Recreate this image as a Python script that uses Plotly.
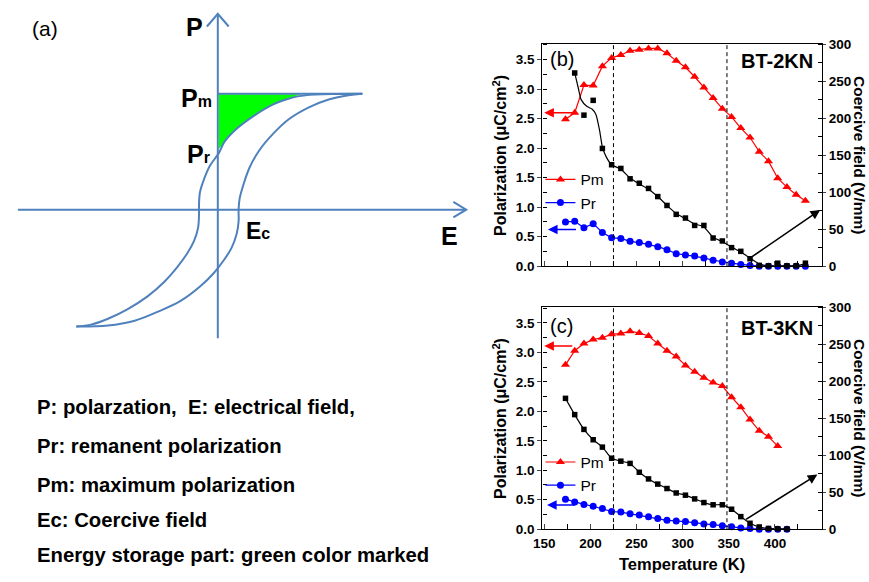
import plotly.graph_objects as go

# ---------------- data: panel (b) BT-2KN ----------------
T_b = [173, 183, 193, 203, 213, 223, 233, 243, 253, 263, 273, 283, 293, 303,
       313, 323, 333, 343, 353, 363, 373, 383, 393, 403, 413, 423, 433]
pm_b = [2.49, 2.60, 3.07, 3.06, 3.39, 3.53, 3.58, 3.65, 3.67, 3.69, 3.69, 3.61, 3.48, 3.37,
        3.21, 3.03, 2.85, 2.67, 2.53, 2.34, 2.18, 1.94, 1.78, 1.49, 1.34, 1.21, 1.11]
pr_b = [0.75, 0.76, 0.65, 0.72, 0.57, 0.48, 0.47, 0.42, 0.40, 0.37, 0.33, 0.28, 0.21, 0.19,
        0.17, 0.14, 0.10, 0.07, 0.05, 0.03, 0.01, 0.0, 0.0, 0.0, 0.0, 0.0, 0.0]
T_b_ec = [183, 193, 203, 213, 223, 233, 243, 253, 263, 273, 283, 293, 303,
          313, 323, 333, 343, 353, 363, 373, 383, 393, 403, 413, 423, 433]
ec_b = [261, 204, 224, 159, 137, 132, 118, 112, 105, 94, 82, 70, 65,
        55, 55, 38, 34, 25, 20, 10, 1, 0.5, 4, 0.5, 0.5, 4]
T_b_fit = [183, 187, 190, 196, 202, 206, 210, 213, 217, 223, 233, 243, 253, 263, 273, 283,
           293, 303, 313, 323, 333, 343, 353, 363, 373, 383, 393, 403, 413, 423, 433]
ec_b_fit = [261, 240, 225, 216, 212, 205, 183, 161, 148, 137, 131, 119, 111, 104, 94, 82,
            71, 64, 57, 53, 39, 33, 26, 19, 11, 3, 0.5, 0.5, 0.5, 0.5, 3]

# ---------------- data: panel (c) BT-3KN ----------------
T_c = [173, 183, 193, 203, 213, 223, 233, 243, 253, 263, 273, 283, 293, 303,
       313, 323, 333, 343, 353, 363, 373, 383, 393, 403]
pm_c = [2.79, 3.03, 3.15, 3.22, 3.25, 3.31, 3.32, 3.36, 3.33, 3.28, 3.15, 3.03, 2.93, 2.78,
        2.67, 2.57, 2.49, 2.43, 2.24, 2.07, 1.86, 1.67, 1.57, 1.41]
T_c_pr = [173, 183, 193, 203, 213, 223, 233, 243, 253, 263, 273, 283, 293, 303,
          313, 323, 333, 343, 353, 363, 373, 383, 393, 403, 413]
pr_c = [0.51, 0.46, 0.42, 0.39, 0.35, 0.30, 0.29, 0.26, 0.24, 0.21, 0.18, 0.15, 0.14, 0.13,
        0.11, 0.09, 0.08, 0.06, 0.04, 0.02, 0.01, 0.0, 0.0, 0.0, 0.0]
T_c_ec = [173, 183, 193, 203, 213, 223, 233, 243, 253, 263, 273, 283, 293, 303,
          313, 323, 333, 343, 353, 363, 373, 383, 393, 403, 413]
ec_c = [177, 155, 135, 121, 111, 96, 92, 89, 77, 68, 61, 55, 49, 46,
        41, 36, 33, 33, 27, 17, 8, 3, 1, 0.5, 0.3]

dashed_T = [225, 348]
x_ticks = [150, 200, 250, 300, 350, 400]

# arrows: (head_x, head_y, tail_x, tail_y)
arrow_b_pm = (150, 2.60, 182, 2.60)
arrow_b_pr = (154, 0.62, 186, 0.62)
arrow_b_ec = (449, 76, 372, 10)
arrow_c_pm = (150, 3.11, 182, 3.11)
arrow_c_pr = (153, 0.41, 185, 0.41)
arrow_c_ec = (446, 74, 367, 12)

# ---------------- schematic (a), in picture pixel units ----------------
loop_up_x = [357, 330, 310, 293, 280, 267, 247, 230, 218, 212, 203, 197, 193, 192, 192,
             191, 187, 180, 170, 157, 140, 120, 100, 83, 68]
loop_up_y = [89, 89.2, 89.8, 91.5, 95, 100, 112, 125, 138, 150, 163, 177, 190, 203, 213,
             227, 240, 253, 267, 282, 297, 310, 320, 326, 328]
loop_lo_x = [68, 100, 127, 150, 173, 193, 207, 217, 225, 230, 232, 232, 233, 237, 243,
             253, 267, 283, 303, 323, 340, 357]
loop_lo_y = [328, 327, 322, 313, 302, 287, 273, 260, 247, 233, 220, 208, 197, 182, 165,
             147, 130, 115, 103, 95, 91, 89]
green_x = [212, 295, 280, 267, 247, 230, 218, 212]
green_y = [89.5, 89.5, 95, 100, 112, 125, 138, 146]
p_axis_x = [211, 211]
p_axis_y = [340, 7]
e_axis_x = [9, 462]
e_axis_y = [208, 208]
pm_line_x = [211, 357]
pm_line_y = [89, 89]
p_head_x = [200, 211, 222]
p_head_y = [20, 7, 20]
e_head_x = [449, 462, 449]
e_head_y = [200, 208, 216]

notes = ["P: polarzation,  E: electrical field,",
         "Pr: remanent polarization",
         "Pm: maximum polarization",
         "Ec: Coercive field",
         "Energy storage part: green color marked"]
notes_y = [411, 451, 491, 527, 562]

W, H = 869, 582
FONT = "Arial, Liberation Sans, sans-serif"
BLUE_S = "#4f81bd"

fig = go.Figure()

def px_x(v):
    return v / W

def px_y(v):
    return 1 - v / H

# ---- schematic traces (axis x3/y5, 1 unit = 1 px)
sch = dict(xaxis="x3", yaxis="y5", showlegend=False, hoverinfo="skip")
fig.add_trace(go.Scatter(x=green_x, y=green_y, fill="toself", fillcolor="#00ff00",
                         mode="none", **sch))
for xs, ys in [(p_axis_x, p_axis_y), (e_axis_x, e_axis_y), (pm_line_x, pm_line_y),
               (p_head_x, p_head_y), (e_head_x, e_head_y)]:
    fig.add_trace(go.Scatter(x=xs, y=ys, mode="lines",
                             line=dict(color=BLUE_S, width=2), **sch))
for xs, ys in [(loop_up_x, loop_up_y), (loop_lo_x, loop_lo_y)]:
    fig.add_trace(go.Scatter(x=xs, y=ys, mode="lines",
                             line=dict(color=BLUE_S, width=2, shape="spline", smoothing=1.0),
                             **sch))

# ---- panel traces
def panel(xa, ya, ya2, T_pm, pm, T_pr, pr, T_ec, ec, legend, fitT=None, fitE=None):
    fig.add_trace(go.Scatter(x=T_pm, y=pm, name="Pm", mode="lines+markers",
                             xaxis=xa, yaxis=ya, legend=legend, cliponaxis=False,
                             line=dict(color="#ff0000", width=1.2),
                             marker=dict(symbol="triangle-up", size=8, color="#ff0000")))
    fig.add_trace(go.Scatter(x=T_pr, y=pr, name="Pr", mode="lines+markers",
                             xaxis=xa, yaxis=ya, legend=legend, cliponaxis=False,
                             line=dict(color="#0000ff", width=1.2),
                             marker=dict(symbol="circle", size=7, color="#0000ff")))
    if fitT is not None:
        fig.add_trace(go.Scatter(x=fitT, y=fitE, mode="lines", showlegend=False,
                                 xaxis=xa, yaxis=ya2,
                                 line=dict(color="black", width=1.2, shape="spline", smoothing=0.6)))
        fig.add_trace(go.Scatter(x=T_ec, y=ec, mode="markers", showlegend=False,
                                 xaxis=xa, yaxis=ya2, cliponaxis=False,
                                 marker=dict(symbol="square", size=5.5, color="black")))
    else:
        fig.add_trace(go.Scatter(x=T_ec, y=ec, mode="lines+markers", showlegend=False,
                                 xaxis=xa, yaxis=ya2, cliponaxis=False,
                                 line=dict(color="black", width=1.2, shape="spline", smoothing=0.6),
                                 marker=dict(symbol="square", size=5.5, color="black")))

panel("x", "y", "y2", T_b, pm_b, T_b, pr_b, T_b_ec, ec_b, "legend", T_b_fit, ec_b_fit)
panel("x2", "y3", "y4", T_c, pm_c, T_c_pr, pr_c, T_c_ec, ec_c, "legend2")

xdom = [539 / W, 821.5 / W]
dom_b = [px_y(266), px_y(37.7)]
dom_c = [px_y(536), px_y(308)]
tickf = dict(family=FONT, size=13.5, color="black", weight="bold")

def xaxis_cfg(anchor, labels):
    return dict(domain=xdom, anchor=anchor, range=[148, 451], tickvals=x_ticks,
                showticklabels=labels, ticks="inside", ticklen=5, tickwidth=1,
                minor=dict(dtick=25, ticks="inside", ticklen=5, tickwidth=1, tickcolor="black"),
                showline=True, linecolor="black", linewidth=1.2, mirror=True,
                showgrid=False, zeroline=False, tickfont=tickf, ticklabelstandoff=2)

def yleft_cfg(anchor, dom):
    return dict(domain=dom, anchor=anchor, range=[0, 3.77], dtick=0.5, tickformat=".1f",
                ticks="outside", ticklen=4, tickwidth=1,
                minor=dict(dtick=0.25, ticks="inside", ticklen=4, tickwidth=1, tickcolor="black"),
                showline=True, linecolor="black", linewidth=1.2,
                showgrid=False, zeroline=False, tickfont=tickf)

def yright_cfg(anchor, over):
    return dict(overlaying=over, anchor=anchor, side="right", range=[0, 300.5], dtick=50,
                ticks="outside", ticklen=3, tickwidth=1,
                minor=dict(dtick=25, ticks="inside", ticklen=4, tickwidth=1, tickcolor="black"),
                showline=True, linecolor="black", linewidth=1.2,
                showgrid=False, zeroline=False, tickfont=tickf)

shapes = []
for xa, ya in [("x", "y"), ("x2", "y3")]:
    for t in dashed_T:
        shapes.append(dict(type="line", xref=xa, yref=f"{ya} domain", x0=t, x1=t, y0=0, y1=1,
                           line=dict(color="black", width=1, dash="4px,3px")))

ann = []
def arrow(a, xa, ya, color):
    hx, hy, tx, ty = a
    ann.append(dict(x=hx, y=hy, ax=tx, ay=ty, xref=xa, yref=ya, axref=xa, ayref=ya,
                    text="", showarrow=True, arrowhead=2, arrowsize=1.2, arrowwidth=1.6,
                    arrowcolor=color))

arrow(arrow_b_pm, "x", "y", "#ff0000")
arrow(arrow_b_pr, "x", "y", "#0000ff")
arrow(arrow_b_ec, "x", "y2", "black")
arrow(arrow_c_pm, "x2", "y3", "#ff0000")
arrow(arrow_c_pr, "x2", "y3", "#0000ff")
arrow(arrow_c_ec, "x2", "y4", "black")

def ptext(text, x, y, size, xanchor="center", bold=False, angle=0):
    # x, y given in page pixels
    ann.append(dict(text=text, x=px_x(x), y=px_y(y), xref="paper", yref="paper",
                    showarrow=False, xanchor=xanchor, yanchor="middle", textangle=angle,
                    borderpad=0,
                    font=dict(family=FONT, size=size, color="black",
                              weight="bold" if bold else "normal")))

# panel labels
ptext("(b)", 546, 53, 20, "left")
ptext("BT-2KN", 813, 55, 20, "right", True)
ptext("(c)", 546, 327, 20, "left")
ptext("BT-3KN", 813, 330, 20, "right", True)
# axis titles
for cy in [152, 422]:
    ptext("Polarization (μC/cm<sup>2</sup>)", 496, cy, 16, "center", True, -90)
    ptext("Coercive field (V/mm)", 860, cy, 15.5, "center", True, 90)
ptext("Temperature (K)", 680, 572, 16.5, "center", True)

# schematic labels
ptext("(a)", 36, 22, 21, "center", False)
ptext("P", 187, 21, 25, "center", True)
ptext("P<span style='font-size:16px'>m</span>", 206, 93, 25, "right", True)
ptext("P<span style='font-size:16px'>r</span>", 204, 151, 25, "right", True)
ptext("E<span style='font-size:16px'>c</span>", 238, 230, 23, "left", True)
ptext("E", 445, 235, 25, "center", True)
for txt, yy in zip(notes, notes_y):
    ptext(txt, 27, yy, 20.3, "left", True)

legend_common = dict(xanchor="left", yanchor="top", bgcolor="rgba(0,0,0,0)",
                     font=dict(family=FONT, size=15.5, color="black"), tracegroupgap=0,
                     itemwidth=30)

fig.update_layout(
    width=W, height=H, margin=dict(l=0, r=0, t=0, b=0, pad=0),
    paper_bgcolor="white", plot_bgcolor="rgba(0,0,0,0)",
    font=dict(family=FONT, color="black"),
    xaxis=xaxis_cfg("y", False),
    yaxis=yleft_cfg("x", dom_b),
    yaxis2=yright_cfg("x", "y"),
    xaxis2=xaxis_cfg("y3", True),
    yaxis3=yleft_cfg("x2", dom_c),
    yaxis4=yright_cfg("x2", "y3"),
    xaxis3=dict(domain=[0, 500 / W], range=[0, 500], visible=False, anchor="y5"),
    yaxis5=dict(domain=[0, 1], range=[H, 0], visible=False, anchor="x3"),
    legend=dict(x=px_x(537), y=px_y(160), **legend_common),
    legend2=dict(x=px_x(537), y=px_y(450), **legend_common),
    shapes=shapes, annotations=ann, showlegend=True,
)

fig.write_html("out.html")
